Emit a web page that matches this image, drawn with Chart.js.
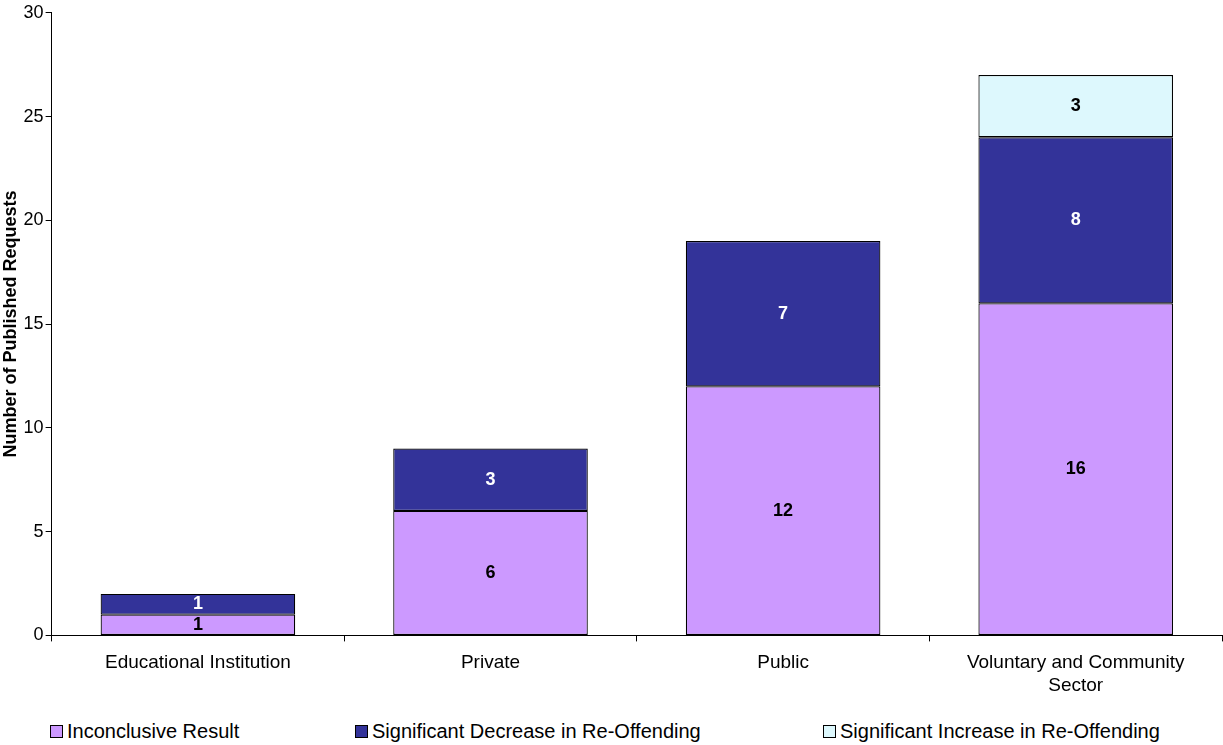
<!DOCTYPE html>
<html>
<head>
<meta charset="utf-8">
<script src="https://cdn.jsdelivr.net/npm/chart.js@4"></script>
<style>
  body { margin:0; background:#fff; font-family:"Liberation Sans", Arial, sans-serif; }
  #wrap { position:relative; width:1223px; height:745px; }
  #legend { position:absolute; top:720px; left:0; width:1223px; height:24px; font-size:20px; }
  .lg { position:absolute; display:flex; align-items:center; }
  .lg span.box { width:11px; height:11px; border:1px solid #000; margin-right:4px; display:inline-block; }
</style>
</head>
<body>
<div id="wrap">
  <canvas id="c" width="1223" height="707"></canvas>
  <div id="legend"></div>
</div>
<script>
const categories = ['Educational Institution', 'Private', 'Public', ['Voluntary and Community', 'Sector']];
const seriesNames = ['Inconclusive Result', 'Significant Decrease in Re-Offending', 'Significant Increase in Re-Offending'];
const inconclusive = [1, 6, 12, 16];
const decrease = [1, 3, 7, 8];
const increase = [0, 0, 0, 3];
const yTicks = [0, 5, 10, 15, 20, 25, 30];

const colors = ['#CC99FF', '#333399', '#DDF8FD'];
const labelColors = ['#000', '#fff', '#000'];
const legendX = [50, 355, 823];

// draw value labels at bar centres
const valueLabels = {
  id: 'valueLabels',
  afterDatasetsDraw(chart) {
    const ctx = chart.ctx;
    ctx.save();
    ctx.font = 'bold 18px "Liberation Sans", Arial, sans-serif';
    ctx.textAlign = 'center';
    ctx.textBaseline = 'middle';
    chart.data.datasets.forEach(function(ds, i) {
      chart.getDatasetMeta(i).data.forEach(function(bar, j) {
        if (!ds.data[j]) return;
        ctx.fillStyle = labelColors[i];
        ctx.fillText(ds.data[j], bar.x, (bar.y + bar.base) / 2);
      });
    });
    ctx.restore();
  }
};

new Chart(document.getElementById('c'), {
  type: 'bar',
  data: {
    labels: categories,
    datasets: [inconclusive, decrease, increase].map(function(d, i) {
      return { label: seriesNames[i], data: d, backgroundColor: colors[i], borderColor: '#000', borderWidth: 1.2, borderSkipped: false,
               barPercentage: 0.665, categoryPercentage: 1 };
    })
  },
  options: {
    responsive: false,
    animation: false,
    layout: { padding: { top: 0, right: 1, bottom: 0 } },
    plugins: { legend: { display: false }, tooltip: { enabled: false } },
    scales: {
      x: {
        stacked: true,
        grid: { display: true, drawOnChartArea: false, offset: true, color: '#000', tickLength: 6 },
        border: { color: '#000' },
        ticks: { color: '#000', font: { size: 19, family: '"Liberation Sans", Arial' }, padding: 10 }
      },
      y: {
        stacked: true, min: 0, max: 30,
        afterBuildTicks(axis) { axis.ticks = yTicks.map(function(v) { return { value: v }; }); },
        grid: { display: true, drawOnChartArea: false, color: '#000', tickLength: 6 },
        border: { color: '#000' },
        ticks: { color: '#000', font: { size: 18, family: '"Liberation Sans", Arial' }, padding: 2 },
        title: { display: true, text: 'Number of Published Requests', color: '#000', padding: 0,
                 font: { size: 18, weight: 'bold', family: '"Liberation Sans", Arial' } }
      }
    }
  },
  plugins: [valueLabels]
});

const legend = document.getElementById('legend');
seriesNames.forEach(function(name, i) {
  const el = document.createElement('div');
  el.className = 'lg';
  el.style.left = legendX[i] + 'px';
  el.innerHTML = '<span class="box" style="background:' + colors[i] + '"></span>' + name;
  legend.appendChild(el);
});
</script>
</body>
</html>
